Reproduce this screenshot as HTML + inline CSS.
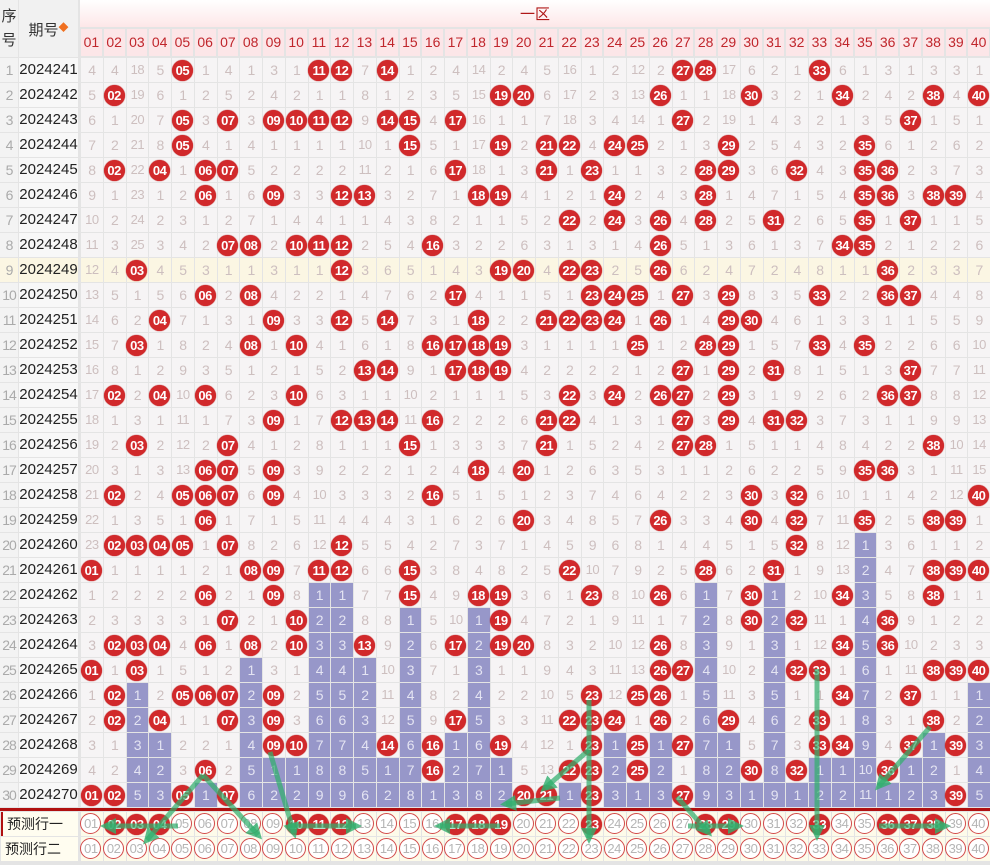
<!DOCTYPE html>
<html><head><meta charset="utf-8">
<style>
html,body{margin:0;padding:0;background:#fff;}
#w{position:relative;width:990px;height:865px;overflow:hidden;background:#e4e4e4;font-family:"Liberation Sans","Noto Sans CJK SC",sans-serif;}
.c{position:absolute;box-sizing:border-box;text-align:center;font-size:14px;}
.g{background:#f6f4f5;color:#cdbfbf;}
.y{background:#fbf6e3;color:#cdbfbf;}
.b{background:#9797c9;color:#e4e4f2;}
.ball{position:absolute;width:21px;height:21px;border-radius:50%;background:#d1292b;color:#fff;font-weight:bold;font-size:13px;line-height:21px;text-align:center;letter-spacing:-0.5px;box-shadow:0 0 1px #a00;}
.ring{position:absolute;width:19px;height:19px;border-radius:50%;border:1.5px solid #d24a4a;background:#fff;color:#b5b5b5;font-size:13px;line-height:19px;text-align:center;letter-spacing:-0.5px;}
</style></head><body>
<div id="w">
<div class="c" style="left:0;top:0;width:18px;height:57px;background:#f1f1f1;color:#333;font-size:15px;line-height:24px;padding-top:5px;">序<br>号</div>
<div class="c" style="left:19px;top:0;width:59px;height:57px;background:#f1f1f1;color:#333;font-size:15px;line-height:57px;">期号<span style="color:#f07020;font-size:10px;vertical-align:4px">◆</span></div>
<div class="c" style="left:80px;top:0;width:910px;height:27px;background:linear-gradient(#fff,#fde7e8);color:#b01818;font-size:15px;line-height:30px;">一区</div>
</div>
<script>
var W=document.getElementById('w');
var hits=[[5,11,12,14,27,28,33],[2,19,20,26,30,34,38,40],[5,7,9,10,11,12,14,15,17,27,37],[5,15,19,21,22,24,25,29,35],[2,4,6,7,17,21,23,28,29,32,35,36],[6,9,12,13,18,19,24,28,35,36,38,39],[22,24,26,28,31,35,37],[7,8,10,11,12,16,26,34,35],[3,12,19,20,22,23,26,36],[6,8,17,23,24,25,27,29,33,36,37],[4,9,12,14,18,21,22,23,24,26,29,30],[3,8,10,16,17,18,19,25,28,29,33,35],[13,14,17,18,19,27,29,31,37],[2,4,6,10,22,24,26,27,29,36,37],[9,12,13,14,16,21,22,27,29,31,32],[3,7,15,21,27,28,38],[6,7,9,18,20,35,36],[2,5,6,7,9,16,30,32,40],[6,20,26,30,32,35,38,39],[2,3,4,5,7,12,32],[1,8,9,11,12,15,22,28,31,38,39,40],[6,9,15,18,19,23,26,30,34,38],[7,10,19,30,32,36],[2,3,4,6,8,10,13,17,19,20,26,34,36],[1,3,26,27,32,33,38,39,40],[2,5,6,7,9,23,25,26,34,37],[2,4,7,9,17,22,23,24,26,29,33,38],[9,10,14,16,19,23,25,27,33,34,37,39],[6,16,22,23,25,30,32,36],[1,2,5,7,20,21,23,27,39]];
var init=[4,4,18,5,0,1,4,1,3,1,0,0,7,0,1,2,4,14,2,4,5,16,1,2,12,2,0,0,17,6,2,1,0,6,1,3,1,3,3,1];
var CW=22.75,X0=80,Y0=57,RH=25;
function p(n){return (n<10?'0':'')+n;}
function add(cls,l,t,w,h,txt,st){var d=document.createElement('div');d.className=cls;d.style.cssText='left:'+l+'px;top:'+t+'px;width:'+w+'px;height:'+h+'px;'+(st||'');if(txt!==undefined)d.textContent=txt;W.appendChild(d);return d;}
for(var c=0;c<40;c++){add('c',X0+c*CW+1,29,CW-2,27,p(c+1),'background:#fce6e8;color:#c0262c;line-height:27px;font-size:14px;');}
var om=[],lastHit=[];
for(var r=0;r<30;r++){om[r]=[];for(var c=0;c<40;c++){var h=hits[r].indexOf(c+1)>=0;if(h){om[r][c]=0;lastHit[c]=r;}else{om[r][c]=r==0?init[c]:om[r-1][c]+1;}}}
for(var r=0;r<30;r++){
 var t=Y0+r*RH+1, yl=(r==8);
 add('c',0,t,18,RH-1,String(r+1),'background:'+(yl?'#fbf6e3':'#f3f3f3')+';color:#aaa;line-height:'+(RH-1)+'px;font-size:14px;letter-spacing:-1px;');
 add('c',19,t,59,RH-1,String(2024241+r),'background:'+(yl?'#fbf6e3':'#f8f8f8')+';color:#222;line-height:'+(RH-1)+'px;font-size:15px;');
 for(var c=0;c<40;c++){
  var l=X0+c*CW+1, v=om[r][c];
  if(v==0){add('c '+(yl?'y':'g'),l,t,CW-1,RH-1,'');add('ball',X0+c*CW+CW/2-10.5,t+1.5,21,21,p(c+1));}
  else{var blue=(om[29][c]>0 && r>lastHit[c]);add('c '+(blue?'b':(yl?'y':'g')),l,t,CW-1,RH-1,String(v),'line-height:'+(RH-1)+'px;font-size:'+(v>=10?13:14)+'px;letter-spacing:-0.5px;');}
 }
}
add('c',0,808,990,3,undefined,'background:#b01010;');
var pred=[2,3,4,10,11,12,17,18,19,23,28,29,33,36,37,38];
var labs=['预测行一','预测行二'];
for(var k=0;k<2;k++){
 var t=812+k*25;
 add('c',1,t,77,24,labs[k],'background:#fffdf0;color:#222;line-height:24px;font-size:14px;text-align:left;padding-left:4px;'+(k==0?'border-left:2px solid #b01010;':''));
 for(var c=0;c<40;c++){
  add('c',X0+c*CW+1,t,CW-1,24,'','background:#fdfbea;');
  if(k==0&&pred.indexOf(c+1)>=0)add('ball',X0+c*CW+CW/2-10.5,t+1.5,21,21,p(c+1));
  else add('ring',X0+c*CW+CW/2-11,t+1,19,19,p(c+1));
 }
}
var s='<svg width="990" height="865" style="position:absolute;left:0;top:0" xmlns="http://www.w3.org/2000/svg"><defs><marker id="a" markerWidth="16" markerHeight="16" refX="10" refY="8" orient="auto" markerUnits="userSpaceOnUse"><path d="M0,0 L16,8 L0,16 z" fill="rgba(50,175,110,0.8)"/></marker></defs><g stroke="rgba(50,175,110,0.72)" stroke-width="5" fill="none" marker-end="url(#a)">';
var L=[[203,775,147,840],[203,775,258,835],[178,826,106,826],[270,752,294,833],[288,826,356,826],[500,826,440,826],[589,700,589,838],[589,750,545,788],[560,798,506,804],[677,797,708,832],[688,826,738,826],[817,669,817,835],[930,727,879,786],[879,826,945,826]];
L.forEach(function(a){s+='<line x1="'+a[0]+'" y1="'+a[1]+'" x2="'+a[2]+'" y2="'+a[3]+'"/>';});
s+='</g></svg>';
W.insertAdjacentHTML('beforeend',s);
</script>
</body></html>
